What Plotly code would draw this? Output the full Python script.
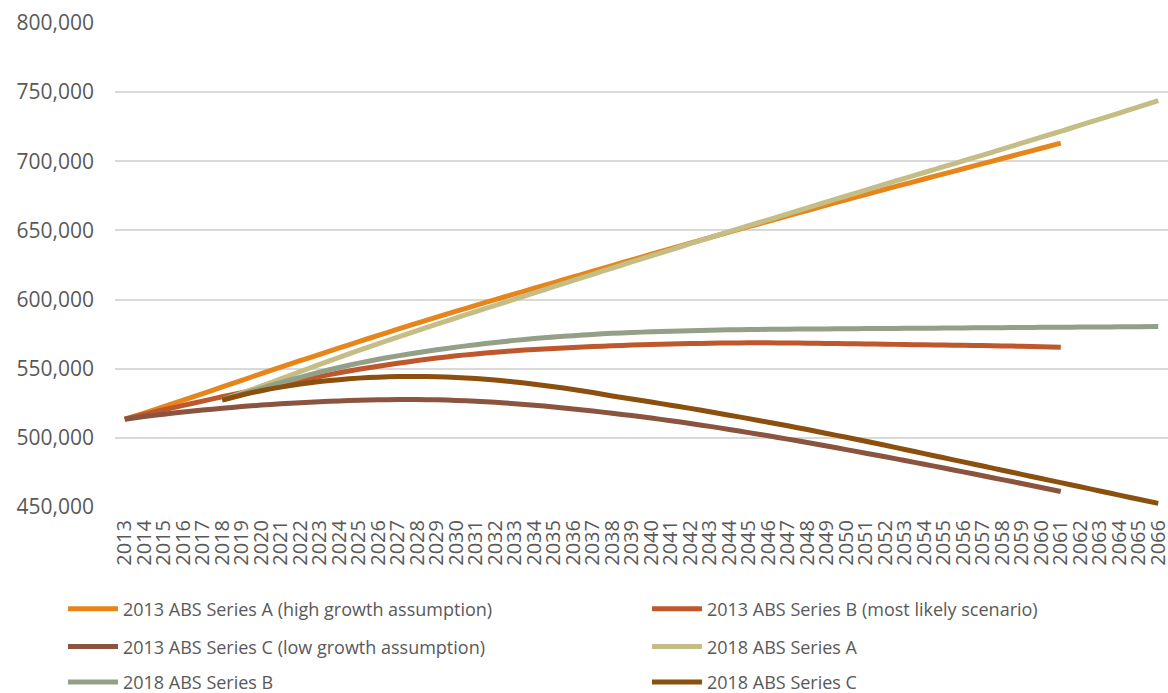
import plotly.graph_objects as go

# Population projections, thousands of persons by year
years = [str(y) for y in range(2013, 2067)]
years_2013_series = years[:49]   # 2013..2061
years_2018_series = years[5:]    # 2018..2066

abs2013_a = [513.5, 517.9, 522.5, 527.2, 532.0, 536.8, 541.6, 546.4, 551.1, 555.8,
             560.4, 565.0, 569.6, 574.1, 578.6, 583.0, 587.3, 591.6, 595.8, 600.0,
             604.1, 608.2, 612.3, 616.4, 620.5, 624.6, 628.7, 632.8, 636.8, 640.8,
             644.8, 648.8, 652.7, 656.6, 660.5, 664.4, 668.3, 672.2, 676.0, 679.8,
             683.5, 687.2, 690.9, 694.6, 698.3, 702.0, 705.7, 709.4, 713.1]
abs2013_b = [513.5, 517.0, 520.3, 523.5, 526.6, 529.7, 532.7, 535.7, 538.6, 541.5,
             544.3, 547.1, 549.6, 551.8, 553.9, 555.9, 557.7, 559.3, 560.7, 561.9,
             563.0, 563.9, 564.7, 565.4, 566.0, 566.6, 567.1, 567.5, 567.9, 568.2,
             568.4, 568.6, 568.7, 568.7, 568.6, 568.5, 568.3, 568.1, 567.9, 567.7,
             567.5, 567.3, 567.1, 566.9, 566.7, 566.5, 566.2, 565.9, 565.6]
abs2013_c = [513.5, 515.4, 517.1, 518.7, 520.1, 521.4, 522.6, 523.7, 524.6, 525.4,
             526.1, 526.7, 527.2, 527.5, 527.7, 527.7, 527.5, 527.1, 526.5, 525.7,
             524.7, 523.6, 522.3, 520.9, 519.4, 517.8, 516.1, 514.3, 512.4, 510.4,
             508.3, 506.1, 503.8, 501.5, 499.1, 496.6, 494.1, 491.5, 488.9, 486.3,
             483.6, 480.9, 478.2, 475.4, 472.6, 469.8, 467.0, 464.1, 461.2]
abs2018_a = [527.4, 532.3, 537.4, 542.6, 547.9, 553.1, 558.2, 563.2, 568.1, 572.9,
             577.6, 582.2, 586.8, 591.3, 595.8, 600.3, 604.8, 609.3, 613.8, 618.3,
             622.8, 627.2, 631.6, 636.0, 640.4, 644.8, 649.1, 653.4, 657.7, 662.0,
             666.3, 670.6, 674.9, 679.2, 683.5, 687.7, 691.9, 696.1, 700.3, 704.5,
             708.8, 713.1, 717.4, 721.7, 726.1, 730.5, 734.9, 739.4, 743.9]
abs2018_b = [527.4, 531.6, 535.8, 539.9, 543.8, 547.5, 550.9, 554.0, 556.8, 559.3,
             561.6, 563.7, 565.6, 567.4, 569.0, 570.5, 571.8, 572.9, 573.9, 574.8,
             575.6, 576.2, 576.7, 577.1, 577.5, 577.8, 578.1, 578.3, 578.5, 578.6,
             578.7, 578.8, 578.9, 579.0, 579.1, 579.2, 579.3, 579.4, 579.5, 579.6,
             579.7, 579.8, 579.9, 580.0, 580.1, 580.2, 580.3, 580.4, 580.5]
abs2018_c = [527.4, 531.0, 534.1, 536.7, 538.9, 540.7, 542.1, 543.2, 543.9, 544.3,
             544.4, 544.2, 543.7, 542.9, 541.8, 540.4, 538.8, 537.0, 535.0, 532.8,
             530.3, 528.1, 525.9, 523.6, 521.3, 518.9, 516.4, 513.9, 511.3, 508.7,
             506.0, 503.2, 500.4, 497.5, 494.6, 491.6, 488.6, 485.6, 482.6, 479.6,
             476.6, 473.6, 470.6, 467.6, 464.6, 461.6, 458.6, 455.6, 452.6]

# name, x, values, colour, (legend column, legend row)
series = [
    ("2013 ABS Series A (high growth assumption)", years_2013_series, abs2013_a, "#E6861A", (0, 0)),
    ("2013 ABS Series B (most likely scenario)", years_2013_series, abs2013_b, "#BF572C", (1, 0)),
    ("2013 ABS Series C (low growth assumption)", years_2013_series, abs2013_c, "#8A543E", (0, 1)),
    ("2018 ABS Series A", years_2018_series, abs2018_a, "#C4BD85", (1, 1)),
    ("2018 ABS Series B", years_2018_series, abs2018_b, "#939F86", (0, 2)),
    ("2018 ABS Series C", years_2018_series, abs2018_c, "#8B4F0E", (1, 2)),
]

FONT = "Open Sans"
TEXT = "#595959"
LEGEND_X = [-0.0494, 0.5052]
LEGEND_Y = [-0.211, -0.289, -0.362]

fig = go.Figure()
legends = {}
for i, (name, xs, vals, color, (col, row)) in enumerate(series):
    key = "legend" if i == 0 else f"legend{i + 1}"
    fig.add_trace(go.Scatter(
        x=xs, y=[v * 1000 for v in vals], name=name, mode="lines",
        line=dict(color=color, width=5, shape="spline", smoothing=0.6),
        legend=key, hoverinfo="x+y+name",
    ))
    legends[key] = dict(
        orientation="h", x=LEGEND_X[col], xanchor="left",
        y=LEGEND_Y[row], yanchor="middle", bgcolor="rgba(0,0,0,0)",
        itemwidth=50,
        font=dict(family=FONT, size=18, color=TEXT),
    )

fig.update_layout(
    width=1168, height=693,
    margin=dict(l=115, r=0, t=23, b=186, autoexpand=False),
    paper_bgcolor="white", plot_bgcolor="white",
    font=dict(family=FONT, color=TEXT),
    showlegend=True,
    xaxis=dict(
        type="category", categoryorder="array", categoryarray=years,
        range=[-0.5, len(years) - 0.5], tickmode="linear", dtick=1,
        tickangle=-90, tickfont=dict(family=FONT, size=20, color=TEXT),
        showgrid=False, showline=False, zeroline=False, ticks="",
        ticklabelstandoff=8, automargin=False,
    ),
    yaxis=dict(
        range=[450000, 800000], tick0=450000, dtick=50000, tickformat=",d",
        tickfont=dict(family=FONT, size=21, color=TEXT),
        showgrid=True, gridcolor="#D9D9D9", gridwidth=1.5,
        showline=False, zeroline=False, ticks="", ticklabelstandoff=20,
        automargin=False,
    ),
    **legends,
)

fig.write_html("out.html")
